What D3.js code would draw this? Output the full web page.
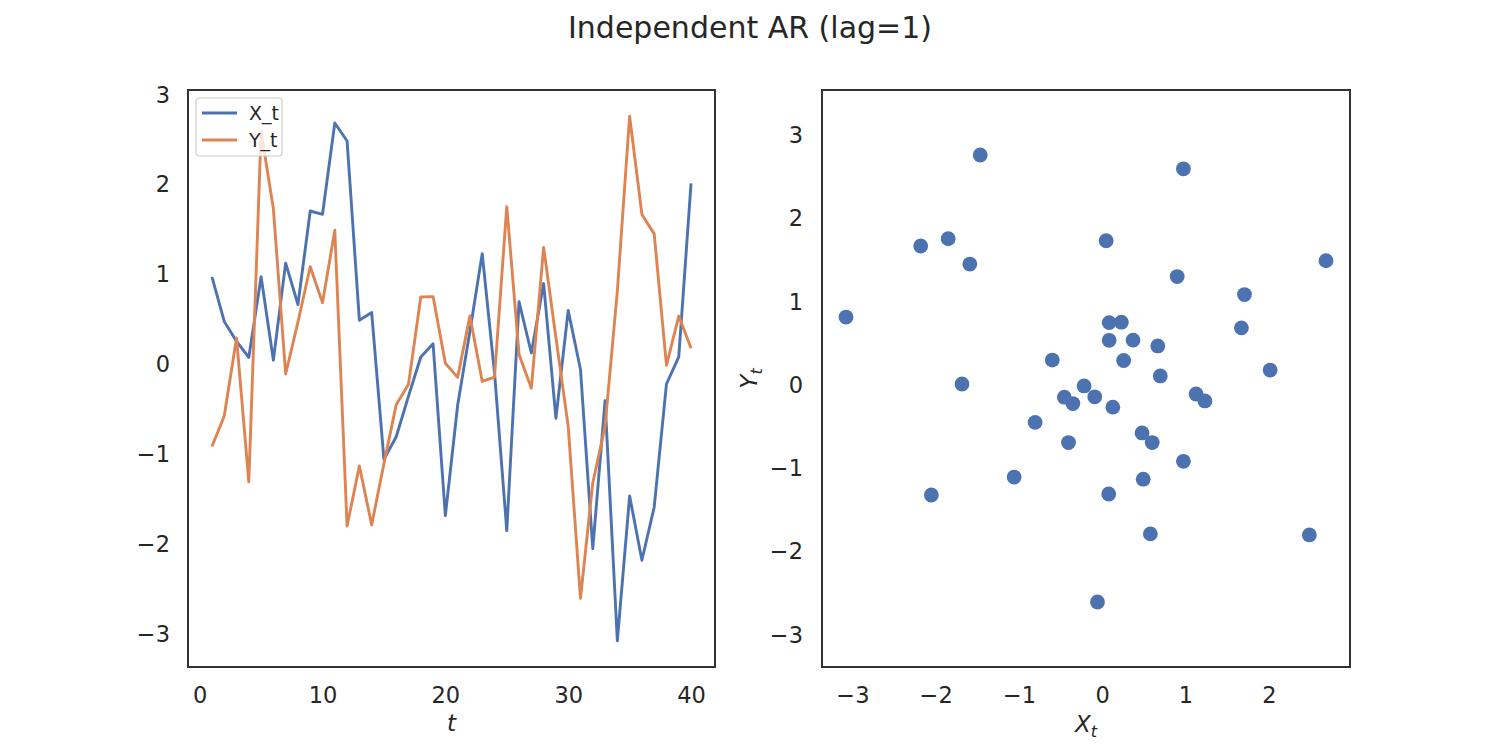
<!DOCTYPE html>
<html>
<head>
<meta charset="utf-8">
<title>Independent AR (lag=1)</title>
<script src="https://cdn.jsdelivr.net/npm/d3@7"></script>
<style>
  body { margin: 0; background: #fff; }
  svg { font-family: "DejaVu Sans", sans-serif; }
</style>
</head>
<body>
<script>
// time index and the two series
var tValues = d3.range(1, 41);
var xSeries = [0.975, 0.478, 0.257, 0.078, 0.975, 0.047, 1.127, 0.667, 1.708, 1.671,
               2.687, 2.487, 0.492, 0.578, -1.058, -0.806, -0.353, 0.083, 0.230, -1.684,
               -0.455, 0.370, 1.233, -0.090, -1.850, 0.697, 0.127, 0.900, -0.600, 0.600,
               -0.057, -2.052, -0.405, -3.077, -1.465, -2.180, -1.590, -0.218, 0.083, 2.016];
var ySeries = [-0.915, -0.575, 0.295, -1.308, 2.597, 1.733, -0.107, 0.470, 1.087, 0.687,
               1.493, -1.800, -1.130, -1.787, -1.105, -0.448, -0.222, 0.750, 0.755, 0.013,
               -0.145, 0.540, -0.190, -0.141, 1.757, 0.110, -0.265, 1.303, 0.300, -0.690,
               -2.605, -1.320, -0.690, 0.817, 2.763, 1.670, 1.453, -0.010, 0.538, 0.180];
var tTicks = [0, 10, 20, 30, 40];
var valTicks = [-3, -2, -1, 0, 1, 2, 3];
var scatterXTicks = [-3, -2, -1, 0, 1, 2];
var seriesNames = ["X_t", "Y_t"];
var colors = ["#4c72b0", "#dd8452"];

var W = 1500, H = 750;
var svg = d3.select("body").append("svg").attr("width", W).attr("height", H);

svg.append("text")
  .attr("x", 750).attr("y", 38)
  .attr("text-anchor", "middle")
  .attr("font-size", "30px")
  .attr("fill", "#262626")
  .text("Independent AR (lag=1)");

// matplotlib-like padded extent
function padded(vals) {
  var e = d3.extent(vals), m = (e[1] - e[0]) * 0.05;
  return [e[0] - m, e[1] + m];
}
function minus(d) { return d < 0 ? "\u2212" + Math.abs(d) : d; }

var left = {x0: 188, x1: 715, y0: 90, y1: 667};
var right = {x0: 822, x1: 1350, y0: 90, y1: 667};
var tickFont = "22.5px";
var ink = "#262626";

function styleAxis(g) {
  g.select(".domain").remove();
  g.selectAll("text").attr("font-size", tickFont).attr("fill", ink)
    .attr("font-family", "DejaVu Sans, sans-serif");
}

// ---- left panel: time series ----
var xl = d3.scaleLinear().domain(padded(tValues)).range([left.x0, left.x1]);
var yl = d3.scaleLinear().domain(padded(xSeries.concat(ySeries))).range([left.y1, left.y0]);

svg.append("g").attr("transform", "translate(0," + left.y1 + ")")
  .call(d3.axisBottom(xl).tickValues(tTicks).tickSize(0).tickPadding(20))
  .call(styleAxis);
svg.append("g").attr("transform", "translate(" + left.x0 + ",0)")
  .call(d3.axisLeft(yl).tickValues(valTicks).tickSize(0).tickPadding(18).tickFormat(minus))
  .call(styleAxis);

var line = d3.line().x(function(d, i) { return xl(tValues[i]); }).y(function(d) { return yl(d); });
[xSeries, ySeries].forEach(function(s, k) {
  svg.append("path").datum(s)
    .attr("d", line)
    .attr("fill", "none")
    .attr("stroke", colors[k])
    .attr("stroke-width", 2.9)
    .attr("stroke-linejoin", "round");
});

svg.append("rect")
  .attr("x", left.x0).attr("y", left.y0)
  .attr("width", left.x1 - left.x0).attr("height", left.y1 - left.y0)
  .attr("fill", "none").attr("stroke", "#333").attr("stroke-width", 2);

// legend
var lg = svg.append("g").attr("transform", "translate(196,98)");
lg.append("rect").attr("width", 86).attr("height", 58).attr("rx", 3)
  .attr("fill", "#fff").attr("fill-opacity", 0.8)
  .attr("stroke", "#cccccc").attr("stroke-width", 1.2);
seriesNames.forEach(function(n, k) {
  var yy = 15 + k * 27;
  lg.append("line").attr("x1", 6).attr("x2", 41).attr("y1", yy).attr("y2", yy)
    .attr("stroke", colors[k]).attr("stroke-width", 2.9);
  lg.append("text").attr("x", 53).attr("y", yy + 7)
    .attr("font-size", "19px").attr("fill", ink).text(n);
});

svg.append("text")
  .attr("x", (left.x0 + left.x1) / 2).attr("y", 731)
  .attr("text-anchor", "middle").attr("font-size", "23px")
  .attr("font-style", "italic").attr("fill", ink).text("t");

// ---- right panel: scatter, equal aspect ----
var xr = d3.scaleLinear().domain(padded(xSeries)).range([right.x0, right.x1]);
var pxPerUnit = (right.x1 - right.x0) / (xr.domain()[1] - xr.domain()[0]);
var yd = padded(ySeries), yc = (yd[0] + yd[1]) / 2;
var halfSpan = (right.y1 - right.y0) / pxPerUnit / 2;
var yr = d3.scaleLinear().domain([yc - halfSpan, yc + halfSpan]).range([right.y1, right.y0]);

svg.append("g").attr("transform", "translate(0," + right.y1 + ")")
  .call(d3.axisBottom(xr).tickValues(scatterXTicks).tickSize(0).tickPadding(20).tickFormat(minus))
  .call(styleAxis);
svg.append("g").attr("transform", "translate(" + right.x0 + ",0)")
  .call(d3.axisLeft(yr).tickValues(valTicks).tickSize(0).tickPadding(19).tickFormat(minus))
  .call(styleAxis);

svg.append("g").selectAll("circle")
  .data(xSeries)
  .enter().append("circle")
  .attr("cx", function(d) { return xr(d); })
  .attr("cy", function(d, i) { return yr(ySeries[i]); })
  .attr("r", 7.4)
  .attr("fill", colors[0]);

svg.append("rect")
  .attr("x", right.x0).attr("y", right.y0)
  .attr("width", right.x1 - right.x0).attr("height", right.y1 - right.y0)
  .attr("fill", "none").attr("stroke", "#333").attr("stroke-width", 2);

var xlab = svg.append("text")
  .attr("x", (right.x0 + right.x1) / 2).attr("y", 732)
  .attr("text-anchor", "middle").attr("font-size", "23px")
  .attr("font-style", "italic").attr("fill", ink);
xlab.append("tspan").text("X");
xlab.append("tspan").attr("font-size", "16px").attr("dy", "5").text("t");

var ylab = svg.append("text")
  .attr("transform", "translate(757," + (right.y0 + right.y1) / 2 + ") rotate(-90)")
  .attr("text-anchor", "middle").attr("font-size", "23px")
  .attr("font-style", "italic").attr("fill", ink);
ylab.append("tspan").text("Y");
ylab.append("tspan").attr("font-size", "16px").attr("dy", "5").text("t");
</script>
</body>
</html>
